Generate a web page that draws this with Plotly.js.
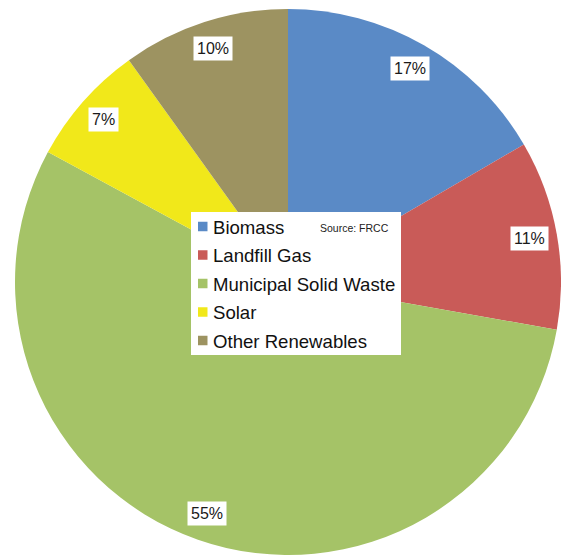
<!DOCTYPE html>
<html>
<head>
<meta charset="utf-8">
<script src="https://cdn.plot.ly/plotly-3.0.1.min.js"></script>
<style>html,body{margin:0;padding:0;background:#fff;}#chart{width:561px;height:556px;}</style>
</head>
<body>
<div id="chart"></div>
<script>
// ---- data ----
const labels = ['Biomass', 'Landfill Gas', 'Municipal Solid Waste', 'Solar', 'Other Renewables'];
const values = [16.6, 11.2, 55.1, 7.2, 9.9];
const colors = ['#5A8AC6', '#C95B58', '#A5C367', '#F1E81A', '#9D9361'];
const sourceNote = 'Source: FRCC';

// ---- layout geometry (pixels) ----
const W = 561, H = 556;
const pieLeft = 15, pieTop = 8;
const cx = (pieLeft + W) / 2, cy = pieTop + (H - pieTop) / 2;
const R = Math.min(W - pieLeft, H - pieTop) / 2;
const labelR = 0.9;
const px = x => x / W, py = y => 1 - y / H;

const total = values.reduce((a, b) => a + b, 0);
const annotations = [];
const shapes = [];

// percent labels, placed along each slice's mid-angle
let cum = 0;
values.forEach((v, i) => {
  const mid = (cum + v / 2) / total;
  cum += v;
  const th = mid * 2 * Math.PI;
  const x = cx + labelR * R * Math.sin(th);
  const y = cy - labelR * R * Math.cos(th);
  annotations.push({
    x: px(x), y: py(y), xref: 'paper', yref: 'paper',
    text: Math.round(v / total * 100) + '%', showarrow: false,
    font: {family: 'Liberation Sans, Arial, sans-serif', size: 16, color: '#1a1a1a'},
    bgcolor: '#ffffff', borderpad: 3, xanchor: 'center', yanchor: 'middle'
  });
});

// legend box
const box = {x0: 191, x1: 401, y0: 212, y1: 355};
shapes.push({type: 'rect', xref: 'paper', yref: 'paper', layer: 'above',
  x0: px(box.x0), x1: px(box.x1), y0: py(box.y1), y1: py(box.y0),
  fillcolor: '#ffffff', line: {width: 0}});
const rowStart = 226.5, rowStep = 28.5, sq = 9.5;
labels.forEach((lab, i) => {
  const yc = rowStart + i * rowStep;
  shapes.push({type: 'rect', xref: 'paper', yref: 'paper', layer: 'above',
    x0: px(198), x1: px(198 + sq), y0: py(yc + sq / 2), y1: py(yc - sq / 2),
    fillcolor: colors[i], line: {width: 0}});
  annotations.push({
    x: px(211), y: py(yc + 0.5), xref: 'paper', yref: 'paper', text: lab, showarrow: false,
    font: {family: 'Liberation Sans, Arial, sans-serif', size: 18.6, color: '#111111'},
    xanchor: 'left', yanchor: 'middle'
  });
});
annotations.push({
  x: px(391), y: py(228), xref: 'paper', yref: 'paper', text: sourceNote, showarrow: false,
  font: {family: 'Liberation Sans, Arial, sans-serif', size: 10.5, color: '#222222'},
  xanchor: 'right', yanchor: 'middle'
});

const trace = {
  type: 'pie', labels: labels, values: values, sort: false, direction: 'clockwise',
  rotation: 0, marker: {colors: colors, line: {width: 0}},
  textinfo: 'none', hoverinfo: 'label+percent', showlegend: false,
  domain: {x: [pieLeft / W, 1], y: [0, 1 - pieTop / H]}
};

Plotly.newPlot('chart', [trace], {
  width: W, height: H, margin: {l: 0, r: 0, t: 0, b: 0},
  paper_bgcolor: '#ffffff', showlegend: false,
  annotations: annotations, shapes: shapes
}, {displayModeBar: false, staticPlot: true});
</script>
</body>
</html>
